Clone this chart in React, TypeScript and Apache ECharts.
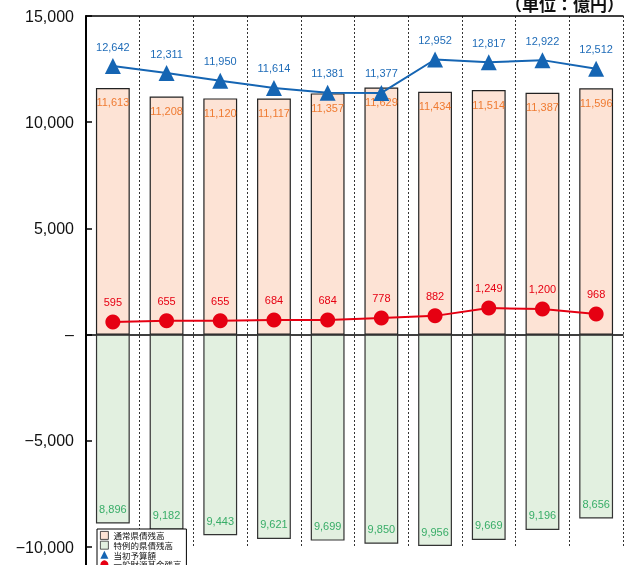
import React, { useEffect, useRef } from "react";
import * as echarts from "echarts";

const categories = ["1", "2", "3", "4", "5", "6", "7", "8", "9", "10"];
const tsujoKensai = [11613, 11208, 11120, 11117, 11357, 11629, 11434, 11514, 11387, 11596];
const tokureiKensai = [8896, 9182, 9443, 9621, 9699, 9850, 9956, 9669, 9196, 8656];
const toshoYosan = [12642, 12311, 11950, 11614, 11381, 11377, 12952, 12817, 12922, 12512];
const kikinZandaka = [595, 655, 655, 684, 684, 778, 882, 1249, 1200, 968];
const seriesNames = ["通常県債残高", "特例的県債残高", "当初予算額", "一般財源基金残高"];
const unitText = "（単位：億円）";

const fmt = (v: number) => Math.abs(v).toLocaleString("en-US");
const numFont = '"Liberation Sans Narrow", "Liberation Sans", Arial, sans-serif';

export default function App() {
  const ref = useRef<HTMLDivElement>(null);
  useEffect(() => {
    if (!ref.current) return;
    const chart = echarts.init(ref.current, undefined, { renderer: "svg" });
    chart.setOption({
      animation: false,
      grid: { left: 86, right: 1, top: 16, bottom: 18, containLabel: false },
      legend: {
        orient: "vertical",
        left: 97,
        top: 529,
        height: 80,
        itemWidth: 8,
        itemHeight: 8,
        itemGap: 1,
        padding: [2, 5, 2, 3],
        borderColor: "#000",
        borderWidth: 1,
        backgroundColor: "#fff",
        itemStyle: { borderWidth: 0.8 },
        textStyle: { fontSize: 8.5, lineHeight: 8, color: "#111", fontFamily: '"Noto Sans CJK JP", sans-serif' },
        data: [
          { name: seriesNames[0], icon: "rect" },
          { name: seriesNames[1], icon: "rect" },
          { name: seriesNames[2], icon: "triangle" },
          { name: seriesNames[3], icon: "circle" },
        ],
      },
      graphic: [
        {
          type: "line",
          shape: { x1: 86, y1: 545, x2: 86, y2: 565 },
          style: { stroke: "#000", lineWidth: 2 },
        },
        {
          type: "text",
          style: {
            text: unitText,
            x: 624,
            y: 12,
            textAlign: "right",
            textVerticalAlign: "bottom",
            fontSize: 17,
            fontWeight: "bold",
            fill: "#111",
            fontFamily: '"Noto Sans CJK JP", sans-serif',
          },
        },
      ],
      xAxis: [
        {
          type: "category",
          data: categories,
          boundaryGap: true,
          axisLine: { onZero: true, lineStyle: { color: "#000", width: 1.5 } },
          axisTick: { show: false },
          axisLabel: { show: false },
          splitLine: { show: true, interval: 0, lineStyle: { color: "#333", type: [2, 2], width: 1 } },
        },
        {
          type: "category",
          data: categories,
          position: "top",
          axisLine: { onZero: false, lineStyle: { color: "#000", width: 1.5 } },
          axisTick: { show: false },
          axisLabel: { show: false },
          splitLine: { show: false },
        },
      ],
      yAxis: {
        type: "value",
        min: -10000,
        max: 15000,
        interval: 5000,
        axisLine: { show: true, lineStyle: { color: "#000", width: 2 } },
        axisTick: { show: true, inside: true, length: 6, lineStyle: { color: "#000", width: 1.5 } },
        splitLine: { show: false },
        axisLabel: {
          margin: 12,
          fontSize: 16,
          color: "#111",
          fontFamily: '"Liberation Sans", Arial, sans-serif',
          formatter: (v: number) => (v === 0 ? "–" : (v < 0 ? "−" : "") + fmt(v)),
        },
      },
      series: [
        {
          name: seriesNames[0],
          type: "bar",
          data: tsujoKensai,
          barWidth: "63%",
          barGap: "-100%",
          itemStyle: { color: "#fde3d5", borderColor: "#222", borderWidth: 1.2 },
          label: {
            show: true,
            position: "insideTop",
            distance: 9,
            color: "#ef7b32",
            fontSize: 11,
            fontFamily: numFont,
            formatter: (p: any) => fmt(p.value),
          },
          z: 2,
        },
        {
          name: seriesNames[1],
          type: "bar",
          data: tokureiKensai.map((v) => -v),
          barWidth: "63%",
          barGap: "-100%",
          itemStyle: { color: "#e2f0e0", borderColor: "#333", borderWidth: 1.2 },
          label: {
            show: true,
            position: "insideBottom",
            distance: 9,
            color: "#39ad68",
            fontSize: 11,
            fontFamily: numFont,
            formatter: (p: any) => fmt(p.value),
          },
          z: 2,
        },
        {
          name: seriesNames[2],
          type: "line",
          data: toshoYosan,
          symbol: "triangle",
          symbolSize: 16,
          itemStyle: { color: "#1565b3" },
          lineStyle: { color: "#1565b3", width: 2 },
          label: {
            show: true,
            position: "top",
            distance: 6,
            color: "#1f6cb8",
            fontSize: 11,
            fontFamily: numFont,
            formatter: (p: any) => fmt(p.value),
          },
          z: 4,
        },
        {
          name: seriesNames[3],
          type: "line",
          data: kikinZandaka,
          symbol: "circle",
          symbolSize: 15,
          itemStyle: { color: "#e60012" },
          lineStyle: { color: "#e60012", width: 2 },
          label: {
            show: true,
            position: "top",
            distance: 7,
            color: "#e60012",
            fontSize: 11,
            fontFamily: numFont,
            formatter: (p: any) => fmt(p.value),
          },
          z: 4,
        },
      ],
    });
    return () => chart.dispose();
  }, []);
  return <div ref={ref} style={{ position: "fixed", left: 0, top: 0, width: 624, height: 565 }} />;
}
